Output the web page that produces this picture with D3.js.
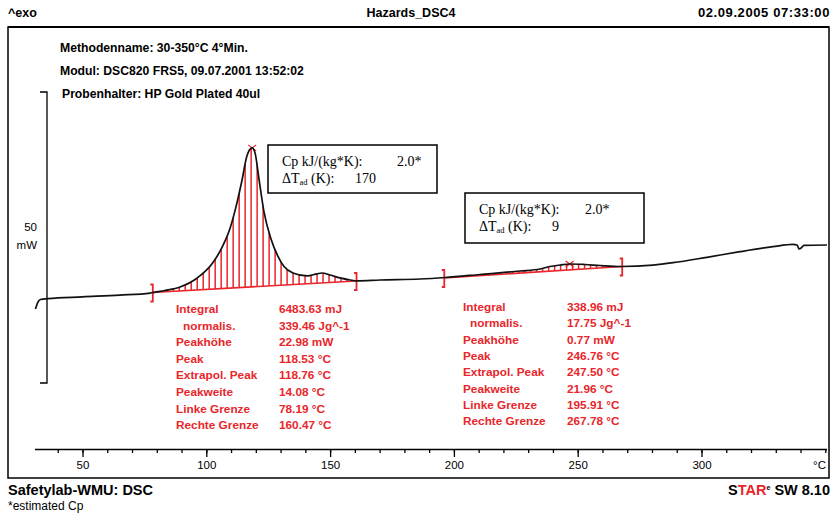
<!DOCTYPE html>
<meta charset="utf-8">
<style>
    body { margin: 0; background: #fff; }
    svg { font-family: "Liberation Sans", Arial, sans-serif; }
    .hdr { font-size: 12.5px; font-weight: bold; }
    .info { font-size: 12.2px; font-weight: bold; }
    .res { font-size: 11.8px; font-weight: bold; fill: #e8262b; }
    .box text { font-family: "Liberation Serif", "Times New Roman", serif; font-size: 14px; }
    .axis text { font-size: 11.5px; font-family: "Liberation Sans", Arial, sans-serif; }
    .axis path, .axis line { stroke: #000; stroke-width: 1.3px; }
</style>
<svg width="834" height="513"></svg>
<script src="https://d3js.org/d3.v7.min.js"></script>
<script>
    // DSC curve: temperature (°C) and heat flow (mW)
    var temps = [31, 32, 33, 36.1, 50, 65, 77.3, 79.3, 83.3, 89.4, 96.2, 102.7, 106.7, 109.6, 112.4, 114.4, 116.4,
        118.5, 119.7, 121.3, 123.3, 126.1, 128.9, 131.4, 135.0, 140.7, 144.7, 146.7, 150.0, 154.0, 158.1,
        160.9, 170.2, 186.3, 196.4, 210.5, 226.7, 234.8, 238.8, 242.9, 246.9, 252.9, 259.0, 267.5, 280.4,
        288.5, 302.2, 315.5, 328.8, 336.9, 338.6, 339.4, 340.2, 341.4, 350.7];
    var heatFlow = [12.7, 13.9, 14.35, 14.5, 14.8, 15.1, 15.45, 15.6, 15.9, 16.5, 18.0, 20.7, 23.6, 26.6, 31.0,
        34.8, 39.0, 40.4, 39.5, 35.0, 29.4, 24.8, 21.8, 20.0, 18.9, 18.4, 18.75, 18.9, 18.55, 18.05, 17.7,
        17.55, 17.7, 17.87, 18.13, 18.64, 19.24, 19.59, 20.02, 20.27, 20.45, 20.36, 20.19, 20.02, 20.27,
        20.67, 21.6, 22.56, 23.42, 23.83, 23.71, 23.02, 23.2, 23.63, 23.71];

    // integration limits and baseline values
    var leftLimit = [78.19, 195.91];
    var rightLimit = [160.47, 267.78];
    var baseAtLeft = [15.55, 18.04];
    var baseAtRight = [17.53, 20.02];
    var peakT = [118.53, 246.76];
    var peakMW = [40.4, 20.45];

    var xTicks = [50, 100, 150, 200, 250, 300];
    var minorTicks = d3.range(40, 351, 10);

    var resultLabels = ["Integral", "normalis.", "Peakhöhe", "Peak", "Extrapol. Peak", "Peakweite", "Linke Grenze", "Rechte Grenze"];
    var results1 = ["6483.63 mJ", "339.46 Jg^-1", "22.98 mW", "118.53 °C", "118.76 °C", "14.08 °C", "78.19 °C", "160.47 °C"];
    var results2 = ["338.96 mJ", "17.75 Jg^-1", "0.77 mW", "246.76 °C", "247.50 °C", "21.96 °C", "195.91 °C", "267.78 °C"];

    var cpValue = ["2.0*", "2.0*"];
    var dTad = ["170", "9"];

    var svg = d3.select("svg");
    var red = "#e8262b";

    var x = d3.scaleLinear().domain([50, 300]).range([82.5, 701.5]);
    var y = d3.scaleLinear().domain([0, 50]).range([383, 92]);

    var pts = temps.map(function(t, i) { return [t, heatFlow[i]]; });

    // header
    svg.append("text").attr("class", "hdr").attr("x", 8).attr("y", 17).text("^exo");
    svg.append("text").attr("class", "hdr").attr("x", 411).attr("y", 17).attr("text-anchor", "middle").text("Hazards_DSC4");
    svg.append("text").attr("class", "hdr").attr("x", 830).attr("y", 17).attr("text-anchor", "end")
        .style("font-size", "13px").style("letter-spacing", "0.6px").text("02.09.2005 07:33:00");

    // frame
    svg.append("rect").attr("x", 8).attr("y", 27).attr("width", 821).attr("height", 451)
        .attr("fill", "none").attr("stroke", "#000").attr("stroke-width", 1.5);
    svg.append("line").attr("x1", 8).attr("x2", 829).attr("y1", 27).attr("y2", 27)
        .attr("stroke", "#000").attr("stroke-width", 2.2);

    var info = ["Methodenname: 30-350°C 4°Min.", "Modul: DSC820 FRS5, 09.07.2001 13:52:02", "Probenhalter: HP Gold Plated 40ul"];
    info.forEach(function(s, i) {
        svg.append("text").attr("class", "info").attr("x", i == 2 ? 62 : 60).attr("y", 52 + i * 23).text(s);
    });

    // 50 mW scale bar
    svg.append("path")
        .attr("d", "M40," + y(50) + "H" + 47 + "V" + y(0) + "H40")
        .attr("fill", "none").attr("stroke", "#000").attr("stroke-width", 1.3);
    svg.append("text").attr("x", 37).attr("y", 231).attr("text-anchor", "end").style("font-size", "11.5px").text("50");
    svg.append("text").attr("x", 37).attr("y", 249).attr("text-anchor", "end").style("font-size", "11.5px").text("mW");

    // hatching of the two integrated areas
    var defs = svg.append("defs");
    [0, 1].forEach(function(k) {
        var lo = leftLimit[k], hi = rightLimit[k];
        var base = d3.scaleLinear().domain([lo, hi]).range([baseAtLeft[k], baseAtRight[k]]);
        var area = d3.area()
            .x(function(d) { return x(d[0]); })
            .y0(function(d) { return y(base(d[0])); })
            .y1(function(d) { return y(d[1]); })
            .curve(d3.curveMonotoneX);
        defs.append("clipPath").attr("id", "clip" + k)
            .append("path").attr("d", area(pts.filter(function(d) { return d[0] > lo - 12 && d[0] < hi + 12; })));

        svg.append("g").attr("clip-path", "url(#clip" + k + ")")
            .selectAll("line")
            .data(d3.range(lo + 1.2, hi, 2.42))
            .enter().append("line")
            .attr("x1", function(d) { return x(d); })
            .attr("x2", function(d) { return x(d); })
            .attr("y1", 100).attr("y2", 320)
            .attr("stroke", red).attr("stroke-width", 1.5);

        svg.append("line")
            .attr("x1", x(lo)).attr("y1", y(baseAtLeft[k]))
            .attr("x2", x(hi)).attr("y2", y(baseAtRight[k]))
            .attr("stroke", red).attr("stroke-width", 1.6);

        // limit brackets
        [[lo, baseAtLeft[k]], [hi, baseAtRight[k]]].forEach(function(p) {
            var cx = x(p[0]), cy = y(p[1]);
            svg.append("path")
                .attr("d", "M" + (cx - 2) + "," + (cy - 8) + "H" + (cx + 0.5) + "V" + (cy + 9) + "H" + (cx - 2))
                .attr("fill", "none").attr("stroke", red).attr("stroke-width", 1.8);
        });

        // peak marker
        var px = x(peakT[k]), py = y(peakMW[k]);
        svg.append("path")
            .attr("d", "M" + (px - 4) + "," + (py - 3) + "L" + (px + 4) + "," + (py + 3) +
                "M" + (px + 4) + "," + (py - 3) + "L" + (px - 4) + "," + (py + 3))
            .attr("stroke", red).attr("stroke-width", 1.2);
    });

    // the curve
    svg.append("path")
        .datum(pts)
        .attr("d", d3.line()
            .x(function(d) { return x(d[0]); })
            .y(function(d) { return y(d[1]); })
            .curve(d3.curveMonotoneX))
        .attr("fill", "none").attr("stroke", "#111").attr("stroke-width", 1.7);

    // Cp boxes
    var boxes = [[268, 145, 169, 48], [465, 193, 179, 50]];
    var valX = [[397, 355], [585, 552]];
    boxes.forEach(function(b, k) {
        var g = svg.append("g").attr("class", "box");
        g.append("rect").attr("x", b[0]).attr("y", b[1]).attr("width", b[2]).attr("height", b[3])
            .attr("fill", "#fff").attr("stroke", "#000").attr("stroke-width", 1.5);
        g.append("text").attr("x", b[0] + 14).attr("y", b[1] + 21).text("Cp kJ/(kg*K):");
        g.append("text").attr("x", valX[k][0]).attr("y", b[1] + 21).text(cpValue[k]);
        var t = g.append("text").attr("x", b[0] + 14).attr("y", b[1] + 38);
        t.append("tspan").text("ΔT");
        t.append("tspan").attr("dy", 2).style("font-size", "8.5px").text("ad");
        t.append("tspan").attr("dy", -2).text(" (K):");
        g.append("text").attr("x", valX[k][1]).attr("y", b[1] + 38).text(dTad[k]);
    });

    // result tables
    var cols = [[176, 279, 313, 16.6, results1], [463, 567, 311, 16.3, results2]];
    cols.forEach(function(c) {
        resultLabels.forEach(function(l, i) {
            svg.append("text").attr("class", "res").attr("x", c[0] + (i == 1 ? 7 : 0)).attr("y", c[2] + i * c[3]).text(l);
            svg.append("text").attr("class", "res").attr("x", c[1]).attr("y", c[2] + i * c[3]).text(c[4][i]);
        });
    });

    // temperature axis
    var xa = x.copy().domain([30.6, 350.5]).range([x(30.6), x(350.5)]);
    svg.append("g").attr("class", "axis").attr("transform", "translate(0,449)")
        .call(d3.axisBottom(xa).tickValues(minorTicks).tickSize(4).tickSizeOuter(0).tickFormat(""));
    svg.append("g").attr("class", "axis").attr("transform", "translate(0,449)")
        .call(d3.axisBottom(xa).tickValues(xTicks).tickSize(8).tickSizeOuter(0).tickPadding(4))
        .call(function(g) { g.select(".domain").remove(); });
    svg.append("text").attr("x", 826).attr("y", 469).attr("text-anchor", "end").style("font-size", "11.5px").text("°C");

    // footer
    svg.append("text").attr("x", 8).attr("y", 495).style("font-size", "14.5px").style("font-weight", "bold").text("Safetylab-WMU: DSC");
    svg.append("text").attr("x", 8).attr("y", 510).style("font-size", "12px").text("*estimated Cp");
    var star = svg.append("text").attr("x", 830).attr("y", 495).attr("text-anchor", "end")
        .style("font-size", "14.5px").style("font-weight", "bold");
    star.append("tspan").text("S");
    star.append("tspan").attr("fill", red).text("TAR");
    star.append("tspan").attr("dy", -5).style("font-size", "7px").text("e");
    star.append("tspan").attr("dy", 5).text(" SW 8.10");
</script>
